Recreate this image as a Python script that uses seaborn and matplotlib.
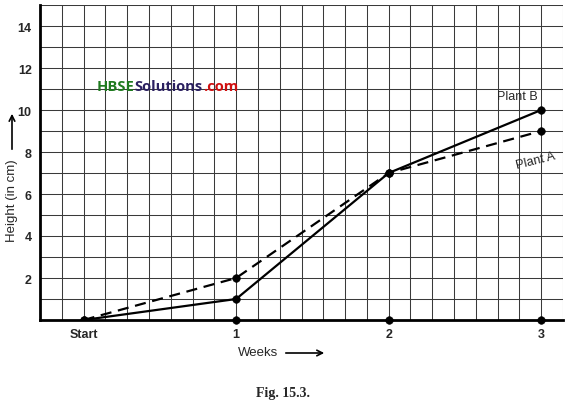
import matplotlib
matplotlib.use("Agg")
import matplotlib.pyplot as plt
import seaborn as sns
import pandas as pd
import numpy as np

# data
weeks = [0, 1, 2, 3]
week_labels = ["Start", "1", "2", "3"]
plant_a = [0, 2, 7, 9]
plant_b = [0, 1, 7, 10]
y_ticks = [2, 4, 6, 8, 10, 12, 14]

sns.set_style("white")
plt.rcParams['font.family'] = ['Liberation Sans', 'DejaVu Sans']

df = pd.DataFrame({"week": weeks + weeks,
                   "height": plant_a + plant_b,
                   "plant": ["Plant A"] * 4 + ["Plant B"] * 4})

fig = plt.figure(figsize=(5.78, 4.06), dpi=100)
ax = fig.add_axes([40 / 578, 85 / 406, 523 / 578, 315 / 406])

# graph paper grid
ax.set_xlim(-2 / 7, 22 / 7)
ax.set_ylim(0, 15)
for gx in np.arange(-2, 23) / 7:
    ax.axvline(gx, color="#3a3a3a", lw=0.75, zorder=0)
for gy in range(1, 16):
    ax.axhline(gy, color="#3a3a3a", lw=0.75, zorder=0)

sns.lineplot(data=df[df.plant == "Plant B"], x="week", y="height", color="black",
             lw=1.6, ax=ax, legend=False, zorder=3)
sns.lineplot(data=df[df.plant == "Plant A"], x="week", y="height", color="black",
             lw=1.6, ax=ax, legend=False, zorder=3, dashes=False, linestyle=(0, (5, 3)))
sns.scatterplot(data=df, x="week", y="height", color="black", s=30, ax=ax,
                legend=False, zorder=4, edgecolor="black")
sns.scatterplot(x=weeks[1:], y=[0] * 3, color="black", s=30, ax=ax,
                legend=False, zorder=4, edgecolor="black", clip_on=False)

for side in ["top", "right"]:
    ax.spines[side].set_visible(False)
for side in ["left", "bottom"]:
    ax.spines[side].set_linewidth(2)
    ax.spines[side].set_color("black")

ax.set_xticks(weeks)
ax.set_xticklabels(week_labels)
ax.set_yticks(y_ticks)
ax.tick_params(length=0, labelsize=9, pad=6)
for t in ax.get_xticklabels() + ax.get_yticklabels():
    t.set_fontweight("bold")
ax.set_xlabel("")
ax.set_ylabel("")

ax.text(2.98, 10.4, "Plant B", fontsize=9, ha="right", va="bottom")
ax.text(2.83, 7.1, "Plant A", fontsize=9, ha="left", va="bottom", rotation=14)

# axis titles with arrows
fig.text(258 / 578, 1 - 353 / 406, "Weeks", fontsize=9.5, ha="center", va="center")
fig.patches.append(matplotlib.patches.FancyArrowPatch(
    (283 / 578, 1 - 354 / 406), (327 / 578, 1 - 354 / 406), transform=fig.transFigure,
    arrowstyle="->", mutation_scale=10, lw=1.2, color="black"))
fig.text(12 / 578, 1 - 201 / 406, "Height (in cm)", fontsize=9.5, ha="center",
         va="center", rotation=90)
fig.patches.append(matplotlib.patches.FancyArrowPatch(
    (12 / 578, 1 - 153 / 406), (12 / 578, 1 - 112 / 406), transform=fig.transFigure,
    arrowstyle="->", mutation_scale=10, lw=1.2, color="black"))

# watermark
fig.canvas.draw()
renderer = fig.canvas.get_renderer()
x0 = 97
for part, col in [("HBSE", "#1f7a1f"), ("Solutions", "#2b2060"), (".com", "#d01010")]:
    t = fig.text(x0 / 578, 1 - 87 / 406, part, fontsize=10.6, color=col,
                 family=["Open Sans", "DejaVu Sans"], fontweight="bold", va="center")
    x0 += t.get_window_extent(renderer).width

fig.text(283 / 578, 1 - 394 / 406, "Fig. 15.3.", fontsize=10, ha="center", va="center",
         family=["Liberation Serif", "DejaVu Serif"], fontweight="bold")

fig.savefig("out.png", dpi=100)
